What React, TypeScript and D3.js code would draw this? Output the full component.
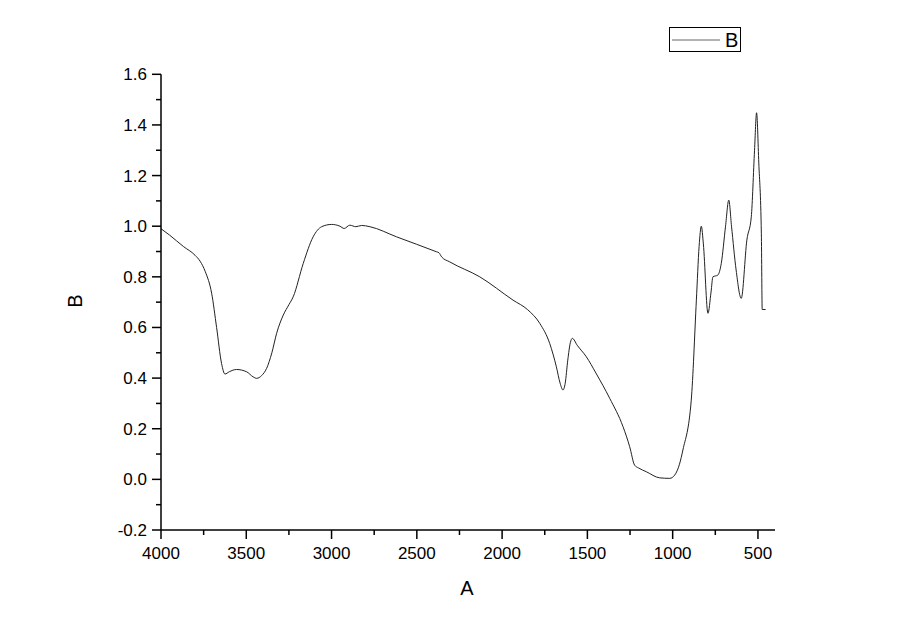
import React from "react";
import * as d3 from "d3";

const wavenumbers = [4000, 3950, 3869, 3800, 3771, 3740, 3703, 3674, 3645, 3625, 3600, 3557, 3498, 3460, 3439, 3410, 3381, 3350, 3322, 3283, 3250, 3225, 3166, 3108, 3058, 3000, 2951, 2926, 2893, 2857, 2824, 2775, 2619, 2385, 2370, 2355, 2307, 2131, 1936, 1850, 1779, 1721, 1682, 1660, 1643, 1630, 1615, 1600, 1588, 1560, 1506, 1450, 1369, 1291, 1252, 1223, 1200, 1154, 1076, 1017, 988, 960, 940, 891, 861, 845, 832, 820, 793, 775, 764, 735, 715, 690, 671, 655, 628, 598, 565, 539, 520, 508, 495, 480, 475, 455];
const absorbance = [0.99, 0.965, 0.92, 0.885, 0.862, 0.82, 0.735, 0.6, 0.458, 0.416, 0.425, 0.434, 0.425, 0.405, 0.399, 0.41, 0.438, 0.5, 0.577, 0.649, 0.69, 0.721, 0.853, 0.958, 0.998, 1.007, 1.0, 0.991, 1.004, 0.998, 1.003, 0.998, 0.958, 0.899, 0.895, 0.879, 0.859, 0.8, 0.708, 0.67, 0.616, 0.537, 0.445, 0.38, 0.353, 0.38, 0.471, 0.54, 0.557, 0.53, 0.484, 0.42, 0.32, 0.208, 0.129, 0.056, 0.045, 0.03, 0.006, 0.004, 0.017, 0.06, 0.116, 0.313, 0.708, 0.92, 1.0, 0.93, 0.656, 0.74, 0.8, 0.807, 0.853, 1.0, 1.103, 1.0, 0.827, 0.715, 0.945, 1.037, 1.3, 1.448, 1.25, 0.97, 0.671, 0.671];

const xMajorTicks = [4000, 3500, 3000, 2500, 2000, 1500, 1000, 500];
const xMinorTicks = [3750, 3250, 2750, 2250, 1750, 1250, 750];
const yMajorTicks = [-0.2, 0.0, 0.2, 0.4, 0.6, 0.8, 1.0, 1.2, 1.4, 1.6];
const yMinorTicks = [-0.1, 0.1, 0.3, 0.5, 0.7, 0.9, 1.1, 1.3, 1.5];

const xLabel = "A";
const yLabel = "B";
const seriesName = "B";

export default function App() {
  const W = 900, H = 636;
  const x = d3.scaleLinear().domain([4000, 400]).range([161, 775]);
  const y = d3.scaleLinear().domain([-0.2, 1.6]).range([530, 74.3]);
  const pts = wavenumbers.map((w, i) => [w, absorbance[i]] as [number, number]);
  const line = d3
    .line<[number, number]>()
    .x((d) => x(d[0]))
    .y((d) => y(d[1]))
    .curve(d3.curveMonotoneX);
  const font = "'Liberation Sans', Arial, sans-serif";
  return (
    <svg width={W} height={H} style={{ position: "absolute", left: 0, top: 0, background: "#fff" }}>
      <rect x={0} y={0} width={W} height={H} fill="#fff" />
      <path d={line(pts) || ""} fill="none" stroke="#222" strokeWidth={1} />
      <line x1={161} x2={161} y1={y(1.6)} y2={530} stroke="#000" strokeWidth={1.5} />
      <line x1={161} x2={775} y1={530} y2={530} stroke="#000" strokeWidth={1.5} />
      {xMajorTicks.map((t) => (
        <g key={"xm" + t}>
          <line x1={x(t)} x2={x(t)} y1={530} y2={539} stroke="#000" strokeWidth={1.5} />
          <text x={x(t)} y={559} textAnchor="middle" fontFamily={font} fontSize={17} fill="#000">
            {t}
          </text>
        </g>
      ))}
      {xMinorTicks.map((t) => (
        <line key={"xn" + t} x1={x(t)} x2={x(t)} y1={530} y2={535} stroke="#000" strokeWidth={1.5} />
      ))}
      {yMajorTicks.map((t) => (
        <g key={"ym" + t}>
          <line x1={152} x2={161} y1={y(t)} y2={y(t)} stroke="#000" strokeWidth={1.5} />
          <text x={147} y={y(t) + 6} textAnchor="end" fontFamily={font} fontSize={17} fill="#000">
            {t.toFixed(1)}
          </text>
        </g>
      ))}
      {yMinorTicks.map((t) => (
        <line key={"yn" + t} x1={156} x2={161} y1={y(t)} y2={y(t)} stroke="#000" strokeWidth={1.5} />
      ))}
      <text x={467} y={595} textAnchor="middle" fontFamily={font} fontSize={20} fill="#000">
        {xLabel}
      </text>
      <text
        transform={`translate(82,301) rotate(-90)`}
        textAnchor="middle"
        fontFamily={font}
        fontSize={20}
        fill="#000"
      >
        {yLabel}
      </text>
      <rect x={669.5} y={27.5} width={71} height={24} fill="#fff" stroke="#000" strokeWidth={1} />
      <line x1={672} x2={720} y1={40} y2={40} stroke="#666" strokeWidth={1} />
      <text x={725} y={47} fontFamily={font} fontSize={20} fill="#000">
        {seriesName}
      </text>
    </svg>
  );
}
